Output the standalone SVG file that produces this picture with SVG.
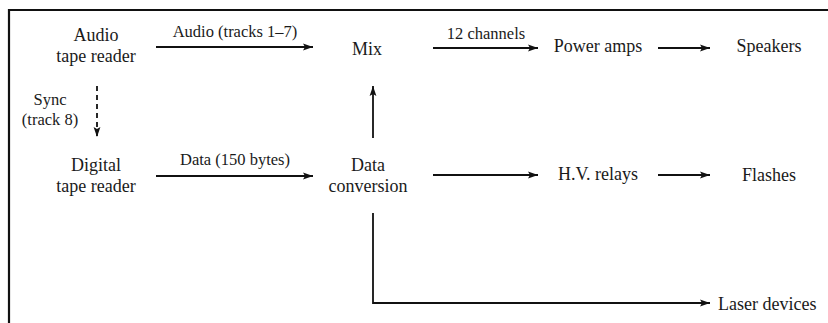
<svg xmlns="http://www.w3.org/2000/svg" width="828" height="323" viewBox="0 0 828 323">
<style>
.n{font-family:"Liberation Serif","Times New Roman",serif;font-size:18px;fill:#1a1a1a;text-anchor:middle}
.l{font-family:"Liberation Serif","Times New Roman",serif;font-size:16.5px;fill:#1a1a1a;text-anchor:middle}
.c{stroke:#111;stroke-width:1.8;fill:none}
</style>
<defs>
<marker id="ah" markerUnits="userSpaceOnUse" markerWidth="12" markerHeight="10" refX="10" refY="4" orient="auto">
<path d="M0,0.6 L10,4 L0,7.4 L2,4 Z" fill="#111"/>
</marker>
</defs>
<rect width="828" height="323" fill="#fff"/>
<path d="M9,325 V10 H830" stroke="#111" stroke-width="2.2" fill="none"/>
<g id="connectors">
<line class="c" x1="156" y1="47" x2="313" y2="47" marker-end="url(#ah)"/>
<line class="c" x1="433" y1="48" x2="538" y2="48" marker-end="url(#ah)"/>
<line class="c" x1="658" y1="48" x2="710" y2="48" marker-end="url(#ah)"/>
<line class="c" x1="97" y1="86" x2="97" y2="137" stroke-dasharray="5,4" marker-end="url(#ah)"/>
<line class="c" x1="156" y1="176" x2="313" y2="176" marker-end="url(#ah)"/>
<line class="c" x1="373" y1="138" x2="373" y2="86" marker-end="url(#ah)"/>
<line class="c" x1="433" y1="175" x2="538" y2="175" marker-end="url(#ah)"/>
<line class="c" x1="658" y1="175" x2="710" y2="175" marker-end="url(#ah)"/>
<path class="c" d="M373,213 V303 H710" marker-end="url(#ah)"/>
<text class="l" x="235" y="37">Audio (tracks 1–7)</text>
<text class="l" x="486" y="39">12 channels</text>
<text class="l" x="235" y="165">Data (150 bytes)</text>
<text class="l" x="50" y="105">Sync</text>
<text class="l" x="50" y="125">(track 8)</text>
</g>
<g id="audio-tape-reader"><text class="n" x="96" y="41">Audio</text><text class="n" x="96" y="62">tape reader</text></g>
<g id="mix"><text class="n" x="367" y="55">Mix</text></g>
<g id="power-amps"><text class="n" x="598" y="52">Power amps</text></g>
<g id="speakers"><text class="n" x="769" y="52">Speakers</text></g>
<g id="digital-tape-reader"><text class="n" x="96" y="171">Digital</text><text class="n" x="96" y="192">tape reader</text></g>
<g id="data-conversion"><text class="n" x="368" y="171">Data</text><text class="n" x="368" y="192">conversion</text></g>
<g id="hv-relays"><text class="n" x="598" y="180">H.V. relays</text></g>
<g id="flashes"><text class="n" x="769" y="181">Flashes</text></g>
<g id="laser-devices"><text class="n" x="718" y="310" style="text-anchor:start">Laser devices</text></g>
</svg>
